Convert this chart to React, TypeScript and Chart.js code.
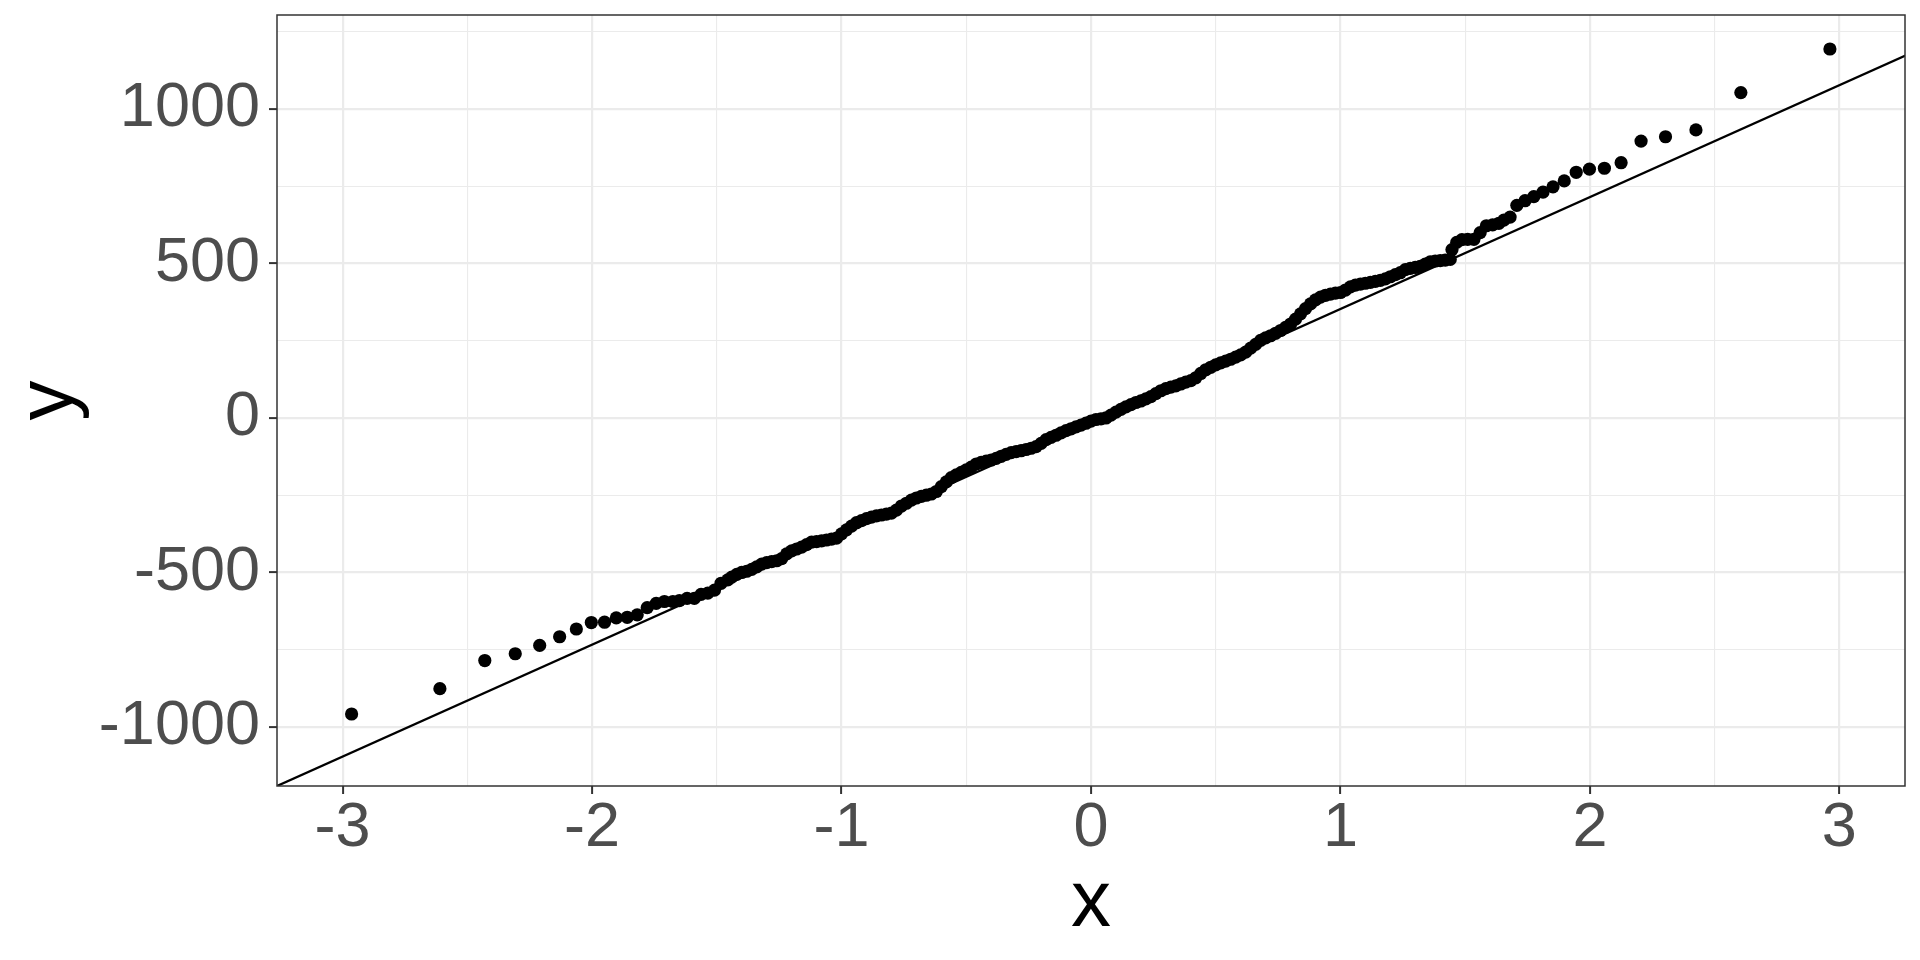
import React, { useEffect, useRef } from "react";
import { Chart, registerables } from "chart.js";

Chart.register(...registerables);

// Sample quantiles (y) against theoretical normal quantiles (x)
const sampleX = [
  -2.964, -2.610, -2.430, -2.308, -2.210, -2.130, -2.063, -2.003, -1.950, -1.903,
  -1.859, -1.819, -1.779, -1.743, -1.710, -1.676, -1.650, -1.619, -1.590, -1.563,
  -1.536, -1.509, -1.483, -1.456, -1.44, -1.42, -1.40, -1.38, -1.36, -1.34,
  -1.32, -1.30, -1.28, -1.26, -1.24, -1.22, -1.20, -1.18, -1.16, -1.14,
  -1.12, -1.10, -1.08, -1.06, -1.04, -1.02, -1.00, -0.98, -0.96, -0.94,
  -0.92, -0.90, -0.88, -0.86, -0.84, -0.82, -0.80, -0.78, -0.76, -0.74,
  -0.72, -0.70, -0.68, -0.66, -0.64, -0.62, -0.60, -0.58, -0.56, -0.54,
  -0.52, -0.50, -0.48, -0.46, -0.44, -0.42, -0.40, -0.38, -0.36, -0.34,
  -0.32, -0.30, -0.28, -0.26, -0.24, -0.22, -0.20, -0.18, -0.16, -0.14,
  -0.12, -0.10, -0.08, -0.06, -0.04, -0.02, 0.00, 0.02, 0.04, 0.06,
  0.08, 0.10, 0.12, 0.14, 0.16, 0.18, 0.20, 0.22, 0.24, 0.26,
  0.28, 0.30, 0.32, 0.34, 0.36, 0.38, 0.40, 0.42, 0.44, 0.46,
  0.48, 0.50, 0.52, 0.54, 0.56, 0.58, 0.60, 0.62, 0.64, 0.66,
  0.68, 0.70, 0.72, 0.74, 0.76, 0.78, 0.80, 0.82, 0.84, 0.86,
  0.88, 0.90, 0.92, 0.94, 0.96, 0.98, 1.00, 1.02, 1.04, 1.06,
  1.08, 1.10, 1.12, 1.14, 1.16, 1.18, 1.20, 1.22, 1.24, 1.26,
  1.28, 1.30, 1.32, 1.34, 1.36, 1.38, 1.40, 1.42, 1.44, 1.447,
  1.466, 1.487, 1.510, 1.535, 1.560, 1.585, 1.610, 1.635, 1.655, 1.680,
  1.707, 1.740, 1.775, 1.812, 1.852, 1.897, 1.945, 1.998, 2.058, 2.125,
  2.205, 2.303, 2.425, 2.605, 2.962,
];
const sampleY = [
  -958, -876, -785, -763, -736, -708, -683, -662, -661, -647,
  -645, -637, -614, -600, -594, -594, -591, -584, -584, -571,
  -567, -557, -535, -524, -515, -506, -500, -496, -490, -482,
  -473, -468, -465, -462, -455, -440, -430, -424, -418, -410,
  -402, -400, -398, -395, -392, -389, -375, -362, -350, -339,
  -332, -326, -321, -317, -314, -311, -308, -298, -285, -276,
  -266, -259, -254, -250, -246, -238, -222, -207, -193, -184,
  -176, -168, -159, -149, -144, -140, -136, -131, -124, -118,
  -112, -109, -106, -102, -98, -93, -82, -70, -63, -56,
  -48, -41, -35, -29, -23, -17, -10, -5, -3, 0,
  9, 19, 28, 36, 43, 50, 55, 62, 69, 79,
  88, 95, 100, 104, 110, 116, 121, 130, 144, 156,
  164, 172, 178, 184, 190, 197, 204, 213, 226, 238,
  251, 259, 266, 274, 283, 293, 304, 320, 337, 354,
  369, 382, 391, 397, 401, 404, 406, 414, 424, 430,
  433, 436, 439, 442, 445, 450, 457, 464, 470, 480,
  484, 487, 491, 498, 505, 508, 509, 511, 513, 545,
  568, 577, 578, 578, 600, 622, 625, 630, 640, 650,
  688, 703, 716, 731, 748, 767, 795, 805, 808, 826,
  896, 910, 932, 1053, 1194,
];

// Reference line (qq line) end points
const refLineX = [-3.3, 3.3];
const refLineY = [-1204.4, 1185.4];

// Axes
const xRange = [-3.263, 3.263];
const yRange = [-1191, 1304];
const xMajorTicks = [-3, -2, -1, 0, 1, 2, 3];
const xMinorTicks = [-2.5, -1.5, -0.5, 0.5, 1.5, 2.5];
const yMajorTicks = [-1000, -500, 0, 500, 1000];
const yMinorTicks = [-750, -250, 250, 750, 1250];
const xTitle = "x";
const yTitle = "y";

const FONT = "'Liberation Sans', Arial, Helvetica, sans-serif";

export default function App() {
  const canvasRef = useRef<HTMLCanvasElement | null>(null);

  useEffect(() => {
    const canvas = canvasRef.current;
    if (!canvas) return;

    const panelBorder = {
      id: "panelBorder",
      afterDraw(chart: any) {
        const { ctx, chartArea } = chart;
        ctx.save();
        ctx.strokeStyle = "#333333";
        ctx.lineWidth = 1.5;
        ctx.strokeRect(
          chartArea.left,
          chartArea.top,
          chartArea.right - chartArea.left,
          chartArea.bottom - chartArea.top
        );
        ctx.restore();
      },
    };

    const points = sampleX.map((x, i) => ({ x, y: sampleY[i] }));
    const line = refLineX.map((x, i) => ({ x, y: refLineY[i] }));

    const chart = new Chart(canvas, {
      type: "scatter",
      data: {
        datasets: [
          {
            data: points,
            pointRadius: 6.6,
            pointHoverRadius: 6.6,
            pointBackgroundColor: "#000000",
            pointBorderWidth: 0,
            showLine: false,
            clip: 0,
          } as any,
          {
            data: line,
            showLine: true,
            pointRadius: 0,
            borderColor: "#000000",
            borderWidth: 2.3,
            clip: 0,
          } as any,
        ],
      },
      options: {
        animation: false,
        responsive: false,
        devicePixelRatio: 1,
        events: [],
        layout: { padding: { top: 15, right: 15, left: 0, bottom: 0 } },
        plugins: {
          legend: { display: false },
          tooltip: { enabled: false },
        },
        scales: {
          x: {
            type: "linear",
            min: xRange[0],
            max: xRange[1],
            afterBuildTicks: (scale: any) => {
              scale.ticks = [...xMajorTicks, ...xMinorTicks]
                .sort((a, b) => a - b)
                .map((v) => ({ value: v }));
            },
            afterFit: (scale: any) => {
              scale.height = 174;
              scale.paddingLeft = 0;
              scale.paddingRight = 0;
              scale.paddingTop = 0;
              scale.paddingBottom = 0;
            },
            border: { display: false },
            grid: {
              color: "#EBEBEB",
              lineWidth: (ctx: any) =>
                xMajorTicks.includes(ctx.tick?.value) ? 2.2 : 1.1,
              drawTicks: true,
              tickLength: 8,
              tickColor: "#333333",
              tickWidth: (ctx: any) =>
                xMajorTicks.includes(ctx.tick?.value) ? 2 : 0,
            },
            ticks: {
              autoSkip: false,
              maxRotation: 0,
              padding: 3,
              color: "#4D4D4D",
              font: { family: FONT, size: 63, lineHeight: 1 },
              callback: (v: any) =>
                xMajorTicks.includes(Number(v)) ? String(v) : "",
            },
            title: {
              display: true,
              text: xTitle,
              color: "#000000",
              font: { family: FONT, size: 80, lineHeight: 1.2 },
              padding: { top: 0, bottom: 8 },
            },
          },
          y: {
            type: "linear",
            min: yRange[0],
            max: yRange[1],
            afterBuildTicks: (scale: any) => {
              scale.ticks = [...yMajorTicks, ...yMinorTicks]
                .sort((a, b) => a - b)
                .map((v) => ({ value: v }));
            },
            afterFit: (scale: any) => {
              scale.width = 277;
              scale.paddingLeft = 0;
              scale.paddingRight = 0;
              scale.paddingTop = 0;
              scale.paddingBottom = 0;
            },
            border: { display: false },
            grid: {
              color: "#EBEBEB",
              lineWidth: (ctx: any) =>
                yMajorTicks.includes(ctx.tick?.value) ? 2.2 : 1.1,
              drawTicks: true,
              tickLength: 8,
              tickColor: "#333333",
              tickWidth: (ctx: any) =>
                yMajorTicks.includes(ctx.tick?.value) ? 2 : 0,
            },
            ticks: {
              autoSkip: false,
              padding: 9,
              color: "#4D4D4D",
              font: { family: FONT, size: 63, lineHeight: 1 },
              callback: (v: any) =>
                yMajorTicks.includes(Number(v)) ? String(v) : "",
            },
            title: {
              display: true,
              text: yTitle,
              color: "#000000",
              font: { family: FONT, size: 80, lineHeight: 1.15 },
              padding: { top: 4, bottom: 0 },
            },
          },
        },
      },
      plugins: [panelBorder],
    });

    return () => chart.destroy();
  }, []);

  return (
    <div style={{ position: "fixed", left: 0, top: 0, width: 1920, height: 960, background: "#ffffff" }}>
      <canvas ref={canvasRef} width={1920} height={960} style={{ display: "block", width: 1920, height: 960 }} />
    </div>
  );
}
